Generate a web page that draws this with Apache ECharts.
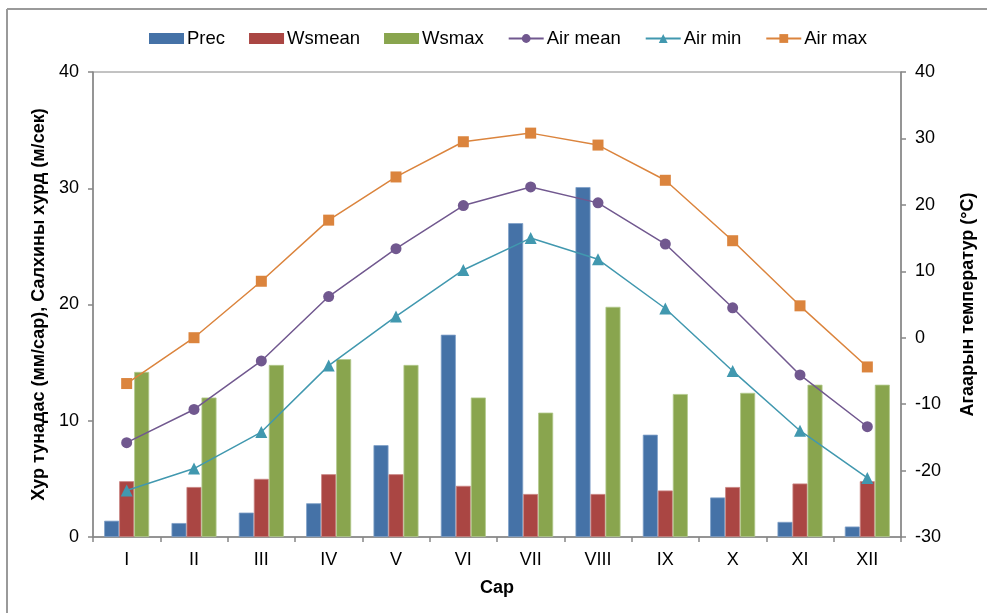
<!DOCTYPE html>
<html>
<head>
<meta charset="utf-8">
<script src="https://cdn.jsdelivr.net/npm/echarts@6/dist/echarts.min.js"></script>
<style>
html,body{margin:0;padding:0;background:#fff;}
#chart{width:987px;height:613px;}
</style>
</head>
<body>
<div id="chart"></div>
<script>
var months = ['I','II','III','IV','V','VI','VII','VIII','IX','X','XI','XII'];
var prec   = [1.4, 1.2, 2.1, 2.9, 7.9, 17.4, 27.0, 30.1, 8.8, 3.4, 1.3, 0.9];
var wsmean = [4.8, 4.3, 5.0, 5.4, 5.4, 4.4, 3.7, 3.7, 4.0, 4.3, 4.6, 4.8];
var wsmax  = [14.2, 12.0, 14.8, 15.3, 14.8, 12.0, 10.7, 19.8, 12.3, 12.4, 13.1, 13.1];
var airMean = [-15.8, -10.8, -3.5, 6.2, 13.4, 19.9, 22.7, 20.3, 14.1, 4.5, -5.6, -13.4];
var airMin  = [-23.0, -19.7, -14.2, -4.2, 3.2, 10.2, 15.0, 11.8, 4.4, -5.0, -14.0, -21.1];
var airMax  = [-6.9, 0.0, 8.5, 17.7, 24.2, 29.5, 30.8, 29.0, 23.7, 14.6, 4.8, -4.4];
var leftTicks = {min: 0, max: 40, interval: 10};
var rightTicks = {min: -30, max: 40, interval: 10};

var font = 'Liberation Sans, Arial, sans-serif';
var axisGray = '#868686';
var chart = echarts.init(document.getElementById('chart'));

function lineSeries(name, data, color, symbol, size) {
  return {
    name: name, type: 'line', yAxisIndex: 1, data: data,
    symbol: symbol, symbolSize: size,
    lineStyle: {color: color, width: 1.5},
    itemStyle: {color: color},
    z: 5
  };
}
function barSeries(name, data, color, border) {
  return {
    name: name, type: 'bar', data: data, barWidth: 15, barGap: '0%',
    itemStyle: {color: color, borderColor: border, borderWidth: 0.8}
  };
}

chart.setOption({
  animation: false,
  textStyle: {fontFamily: font, color: '#000'},
  legend: {
    top: 24, left: 144,
    itemWidth: 35, itemHeight: 11, itemGap: 24,
    textStyle: {fontSize: 18.5, fontFamily: font, color: '#000', padding: [0,0,0,-2]},
    data: [
      {name: 'Prec', icon: 'rect', itemStyle: {borderWidth: 0}},
      {name: 'Wsmean', icon: 'rect', itemStyle: {borderWidth: 0}},
      {name: 'Wsmax', icon: 'rect', itemStyle: {borderWidth: 0}},
      'Air mean', 'Air min', 'Air max'
    ]
  },
  grid: {left: 93, right: 86, top: 72, bottom: 76, show: true, borderColor: axisGray, borderWidth: 1},
  xAxis: {
    type: 'category', data: months, boundaryGap: true,
    name: 'Сар', nameLocation: 'middle', nameGap: 42,
    nameTextStyle: {fontSize: 18, fontWeight: 'bold', color: '#000', fontFamily: font},
    axisLine: {lineStyle: {color: axisGray, width: 1.5}},
    axisTick: {show: true, length: 5, lineStyle: {color: axisGray, width: 1.5}},
    axisLabel: {fontSize: 18, color: '#000', margin: 14, fontFamily: font}
  },
  yAxis: [{
    type: 'value', min: leftTicks.min, max: leftTicks.max, interval: leftTicks.interval,
    name: 'Хур тунадас (мм/сар), Салхины хурд (м/сек)', nameLocation: 'middle', nameGap: 44, nameRotate: 90,
    nameTextStyle: {fontSize: 18, fontWeight: 'bold', color: '#000', fontFamily: font},
    axisLine: {show: true, lineStyle: {color: axisGray, width: 1.5}},
    axisTick: {show: true, length: 5, lineStyle: {color: axisGray, width: 1.5}},
    axisLabel: {fontSize: 18, color: '#000', margin: 14, fontFamily: font},
    splitLine: {show: false}
  }, {
    type: 'value', min: rightTicks.min, max: rightTicks.max, interval: rightTicks.interval,
    position: 'right',
    name: 'Агаарын температур (°C)', nameLocation: 'middle', nameGap: 58, nameRotate: 90,
    nameTextStyle: {fontSize: 18, fontWeight: 'bold', color: '#000', fontFamily: font},
    axisLine: {show: true, lineStyle: {color: axisGray, width: 1.5}},
    axisTick: {show: true, length: 5, lineStyle: {color: axisGray, width: 1.5}},
    axisLabel: {fontSize: 18, color: '#000', margin: 14, fontFamily: font},
    splitLine: {show: false}
  }],
  graphic: [
    {type: 'line', shape: {x1: 7, y1: 9, x2: 987, y2: 9}, style: {stroke: '#9a9a9a', lineWidth: 2}},
    {type: 'line', shape: {x1: 7, y1: 9, x2: 7, y2: 613}, style: {stroke: '#9a9a9a', lineWidth: 2}}
  ],
  series: [
    barSeries('Prec', prec, '#4572A7', '#7f9fc8'),
    barSeries('Wsmean', wsmean, '#AA4643', '#c98482'),
    barSeries('Wsmax', wsmax, '#89A54E', '#b3c98d'),
    lineSeries('Air mean', airMean, '#71588F', 'circle', 11),
    lineSeries('Air min', airMin, '#4198AF', 'triangle', 12),
    lineSeries('Air max', airMax, '#DB843D', 'rect', 11)
  ]
});
</script>
</body>
</html>
